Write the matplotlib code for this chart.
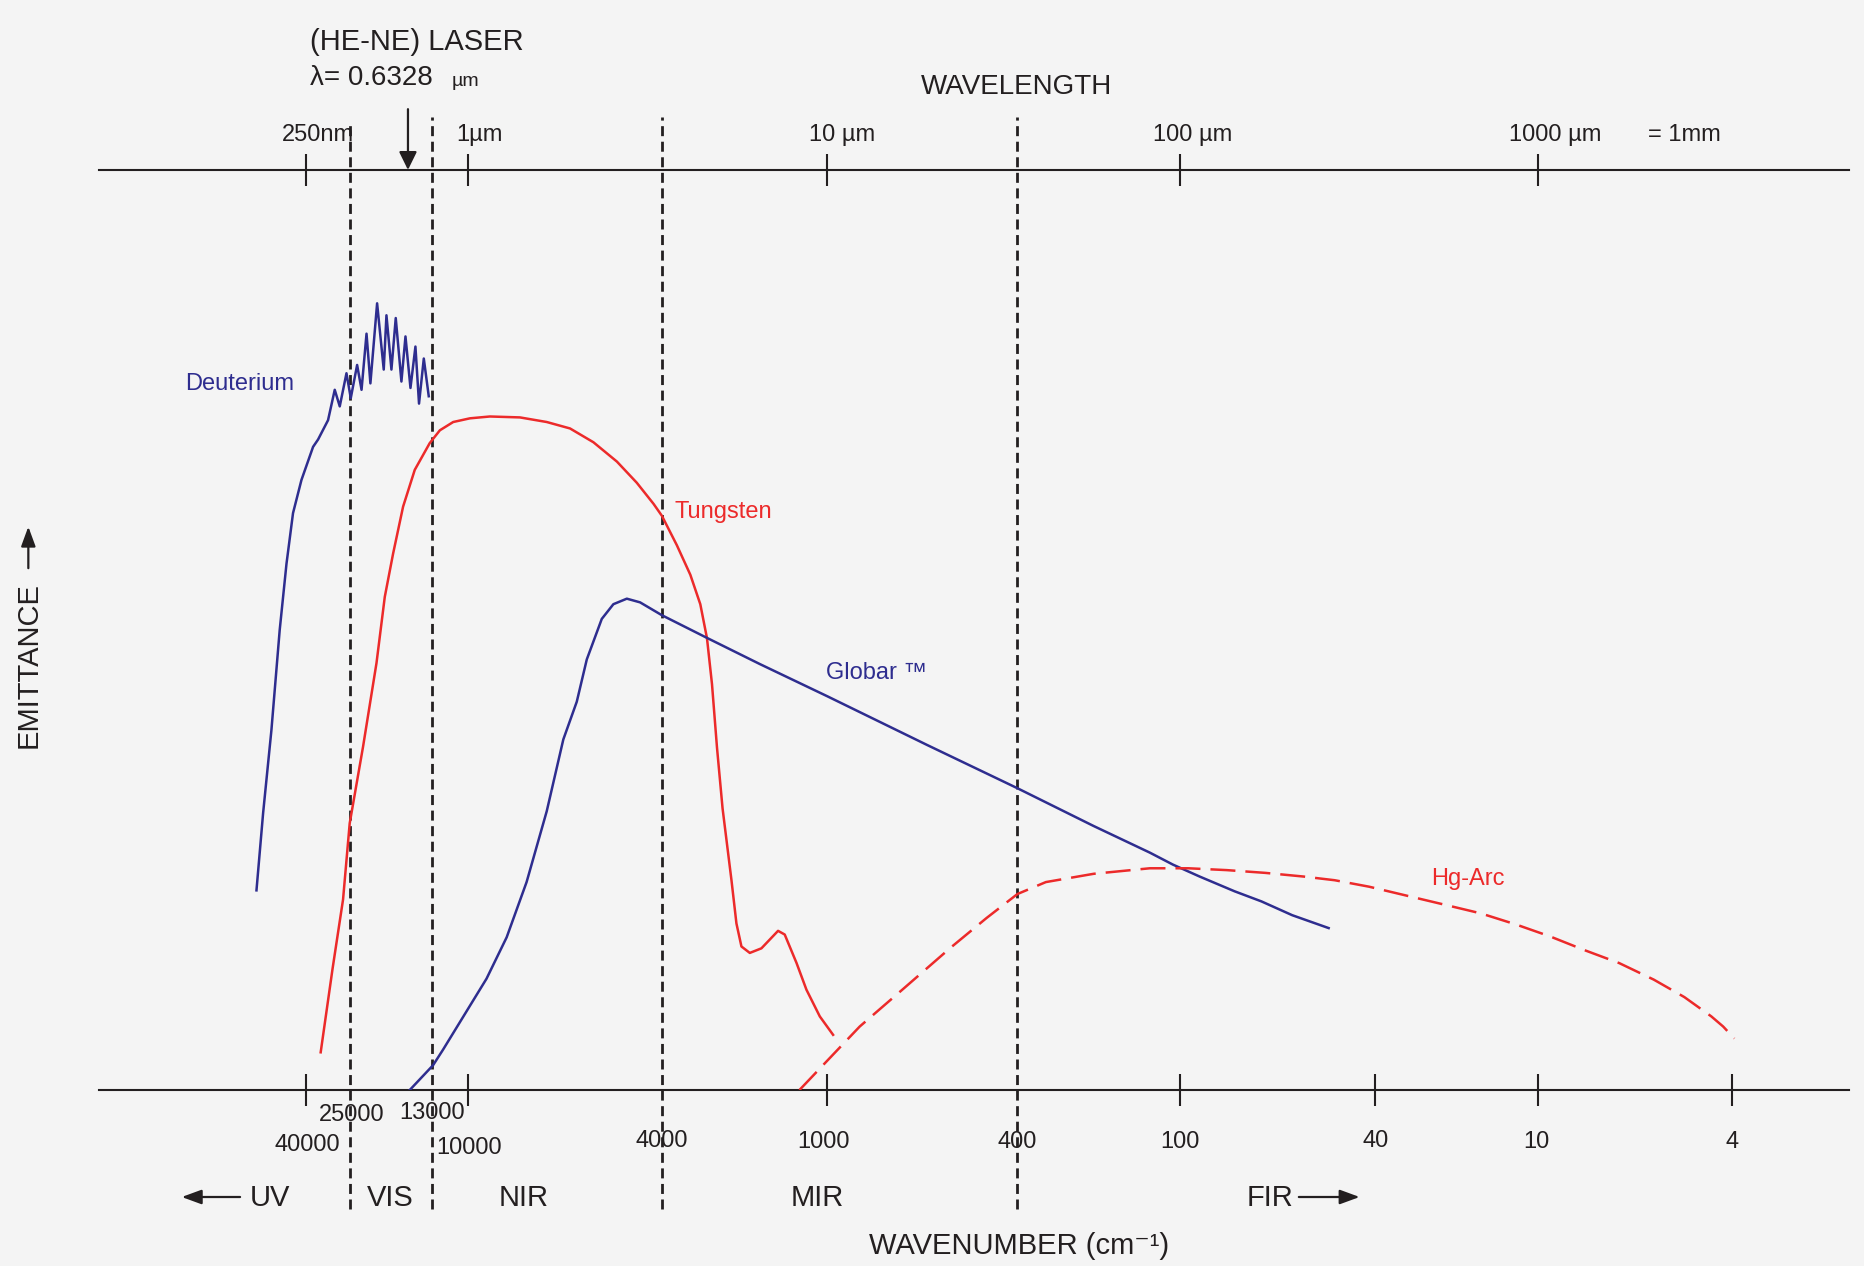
import numpy as np
import matplotlib.pyplot as plt

plt.rcParams['font.family'] = ['Liberation Sans', 'DejaVu Sans']

BG = '#f4f4f4'
INK = '#231f20'
BLUE = '#2e2d8f'
RED = '#ec2a2a'

# Source curves: wavenumber (cm-1) vs relative emittance (0-100)
deut_wn = [55240, 52920, 50160, 47540, 45500, 43620, 41310, 37260, 35320, 31750,
           29560, 28020, 26080, 24930, 23700, 22880, 21990, 21320, 20210, 19170,
           18760, 18030, 17420, 16650, 16120, 15490, 14890, 14470, 13930, 13390]
deut_em = [21.7, 30.1, 39.1, 50.0, 57.2, 62.7, 66.3, 69.9, 70.7, 72.8,
           76.1, 74.3, 77.9, 75.2, 78.8, 76.1, 82.2, 76.8, 85.5, 78.3,
           84.2, 78.3, 83.9, 77.0, 81.9, 76.3, 80.8, 74.6, 79.5, 75.4]

tung_wn = [34350, 30250, 27050, 25190, 22610, 20310, 19010, 17790, 16430, 14970,
           13290, 12310, 11160, 9916, 9023, 7827, 6896, 6177, 5530, 4949,
           4505, 4161, 4000, 3528, 3152, 2899, 2741, 2628, 2520, 2405,
           2232, 2141, 2053, 1914, 1736, 1510, 1428, 1293, 1190, 1064, 972]
tung_em = [4.1, 13.2, 20.7, 29.0, 37.3, 46.4, 53.6, 58.3, 63.4, 67.4,
           70.3, 71.7, 72.6, 73.0, 73.2, 73.1, 72.6, 71.9, 70.4, 68.3,
           66.0, 63.7, 62.4, 59.2, 56.0, 52.8, 49.1, 44.1, 37.2, 30.6,
           22.8, 18.1, 15.6, 14.9, 15.4, 17.3, 16.9, 13.8, 10.9, 8.0, 6.0]

globar_wn = [15580, 12940, 12020, 9167, 8334, 7585, 6896, 6376, 5983, 5706,
             5316, 5032, 4722, 4435, 4000, 2725, 1761, 1000, 618, 400,
             209.3, 129.6, 106.5, 91.3, 77.5, 68.3, 59.1, 49.8]
globar_em = [0.0, 2.7, 4.4, 12.1, 16.6, 22.6, 30.3, 38.1, 42.2, 46.8,
             51.2, 52.8, 53.4, 53.0, 51.6, 49.1, 46.3, 42.8, 37.5, 32.8,
             28.7, 25.8, 24.5, 23.2, 21.6, 20.5, 19.0, 17.6]

hg_wn = [1262, 995, 855, 693, 551, 464, 400, 314, 209, 129.6,
         96.3, 80.4, 67.1, 56.0, 48.4, 41.2, 31.4, 22.6, 16.3, 12.1,
         9.46, 8.03, 6.82, 5.79, 5.01, 4.41, 4.17, 3.94]
hg_em = [0.0, 3.3, 6.9, 11.0, 15.5, 18.7, 21.3, 22.6, 23.5, 24.1,
         24.1, 23.9, 23.6, 23.2, 22.8, 22.1, 21.2, 20.2, 19.2, 18.0,
         16.7, 15.2, 13.8, 12.0, 10.1, 8.0, 6.9, 5.6]

# axis annotations
bottom_ticks = [40000, 10000, 1000, 100, 40, 10, 4]
bottom_label_wn = [40000, 25000, 13000, 10000, 4000, 1000, 400, 100, 40, 10, 4]
bottom_labels = ['40000', '25000', '13000', '10000', '4000', '1000', '400', '100', '40', '10', '4']
top_ticks = [40000, 10000, 1000, 100, 10]
top_labels = ['250nm', '1µm', '10 µm', '100 µm', '1000 µm']
region_bounds = [25000, 13000, 4000, 400]
laser_wn = 1e4 / 0.6328

# the original wavenumber axis is hand drawn (not a true log axis):
# tick value -> position along the axis
axis_wn = [1e6, 40000, 25000, 13000, 10000, 4000, 1000, 400, 100, 40, 10, 4, 0.1]
axis_pos = [-161, 258, 295, 364, 394, 557, 696, 856, 993, 1157, 1294, 1457, 1938]
log_wn = np.log10(axis_wn)


def forward(wn):
    wn = np.clip(np.asarray(wn, dtype=float), 1e-6, None)
    return np.interp(np.log10(wn), log_wn[::-1], np.asarray(axis_pos, float)[::-1])


def inverse(pos):
    return 10 ** np.interp(np.asarray(pos, dtype=float), axis_pos, log_wn)


fig = plt.figure(figsize=(18.64, 12.66), dpi=100, facecolor=BG)
ax = fig.add_axes([0.0529, 0.1390, 0.9388, 0.7268])
ax.set_facecolor('none')
ax.set_xscale('function', functions=(forward, inverse))
# forward() decreases with wavenumber, so give the limits in increasing order
ax.set_xlim(1.886, 1.532e5)
ax.set_ylim(0, 100)

# region boundaries
for i, wn in enumerate(region_bounds):
    ax.axvline(wn, ymin=-0.129, ymax=1.050 if i == 0 else 1.058, clip_on=False,
               color=INK, lw=2, linestyle=(0, (3.6, 2.0)), zorder=1)

# curves
ax.plot(deut_wn, deut_em, color=BLUE, lw=1.8, zorder=3)
ax.plot(tung_wn, tung_em, color=RED, lw=1.8, zorder=3)
ax.plot(globar_wn, globar_em, color=BLUE, lw=1.8, zorder=3)
ax.plot(hg_wn, hg_em, color=RED, lw=1.8, linestyle=(0, (10, 4)), zorder=3)

# axis lines / ticks
for side in ['left', 'right']:
    ax.spines[side].set_visible(False)
for side in ['top', 'bottom']:
    ax.spines[side].set_linewidth(1.5)
    ax.spines[side].set_color(INK)
ax.set_yticks([])
ax.set_xticks(bottom_ticks)
ax.tick_params(axis='x', which='both', bottom=True, top=False, labelbottom=False,
               direction='inout', length=23, width=1.5, color=INK)
ax.minorticks_off()

ax2 = ax.twiny()
ax2.set_xscale('function', functions=(forward, inverse))
ax2.set_xlim(ax.get_xlim())
ax2.set_xticks(top_ticks)
ax2.tick_params(axis='x', top=True, bottom=False, labeltop=False, labelbottom=False,
                direction='inout', length=23, width=1.5, color=INK)
ax2.minorticks_off()
for s in ax2.spines.values():
    s.set_visible(False)

# bottom tick labels (two staggered rows)
bottom_dx = [0.9, 0.7, -0.2, 0.6, 0, -2.5, 0, 0, 0, -1, 0]
bottom_dy = [-39.5, -18, -16.7, -41.8, -36.8, -37.7, -37.7, -37.7, -36.8, -37.7, -37.7]
for wn, lab, dx, dy in zip(bottom_label_wn, bottom_labels, bottom_dx, bottom_dy):
    ax.annotate(lab, xy=(wn, 0), xycoords=('data', 'axes fraction'),
                xytext=(dx, dy), textcoords='offset points',
                ha='center', va='center', fontsize=17, color=INK, zorder=4)

# top (wavelength) tick labels
top_dx = [8.6, 8.1, 10.5, 8.6, 12]
for wn, lab, dx in zip(top_ticks, top_labels, top_dx):
    ax.annotate(lab, xy=(wn, 1), xycoords=('data', 'axes fraction'),
                xytext=(dx, 25), textcoords='offset points',
                ha='center', va='center', fontsize=17, color=INK)
fig.text(0.9035, 0.8934, '= 1mm', fontsize=17, color=INK, ha='center', va='center')
fig.text(0.5453, 0.9315, 'WAVELENGTH', fontsize=20, color=INK, ha='center', va='center')

# He-Ne laser marker
fig.text(0.1663, 0.9666, '(HE-NE) LASER', fontsize=21, color=INK, ha='left', va='center')
fig.text(0.1663, 0.9381, 'λ= 0.6328', fontsize=20, color=INK, ha='left', va='center')
fig.text(0.2423, 0.9355, 'µm', fontsize=14, color=INK, ha='left', va='center')
ax.annotate('', xy=(laser_wn, 1.0), xycoords=('data', 'axes fraction'),
            xytext=(laser_wn, 1.066), textcoords=('data', 'axes fraction'),
            arrowprops=dict(arrowstyle='-|>,head_length=0.55,head_width=0.27',
                            mutation_scale=20, color=INK, lw=1.6,
                            shrinkA=0, shrinkB=0))

# curve labels
fig.text(0.1285, 0.6967, 'Deuterium', fontsize=17, color=BLUE, ha='center', va='center')
fig.text(0.3881, 0.5953, 'Tungsten', fontsize=17, color=RED, ha='center', va='center')
fig.text(0.4703, 0.4685, 'Globar ™', fontsize=17, color=BLUE, ha='center', va='center')
fig.text(0.7873, 0.3057, 'Hg-Arc', fontsize=17, color=RED, ha='center', va='center')

# spectral regions
arrow_style = dict(arrowstyle='-|>,head_length=0.6,head_width=0.22',
                   mutation_scale=20, color=INK, lw=1.6, shrinkA=0, shrinkB=0)
fig.text(0.1449, 0.0540, 'UV', fontsize=21, color=INK, ha='center', va='center')
fig.text(0.2092, 0.0540, 'VIS', fontsize=21, color=INK, ha='center', va='center')
fig.text(0.2807, 0.0540, 'NIR', fontsize=21, color=INK, ha='center', va='center')
fig.text(0.4385, 0.0540, 'MIR', fontsize=21, color=INK, ha='center', va='center')
fig.text(0.6811, 0.0540, 'FIR', fontsize=21, color=INK, ha='center', va='center')
ax.annotate('', xy=(0.0975, 0.0545), xycoords='figure fraction',
            xytext=(0.1288, 0.0545), arrowprops=arrow_style)
ax.annotate('', xy=(0.7294, 0.0545), xycoords='figure fraction',
            xytext=(0.6968, 0.0545), arrowprops=arrow_style)
fig.text(0.5466, 0.0158, 'WAVENUMBER (cm⁻¹)', fontsize=21, color=INK,
         ha='center', va='center')

# y label
fig.text(0.0152, 0.4751, 'EMITTANCE', fontsize=21, color=INK, rotation=90,
         ha='center', va='center')
ax.annotate('', xy=(0.0152, 0.5840), xycoords='figure fraction',
            xytext=(0.0152, 0.5512), arrowprops=arrow_style)

fig.savefig('out.png', dpi=100, facecolor=BG)
